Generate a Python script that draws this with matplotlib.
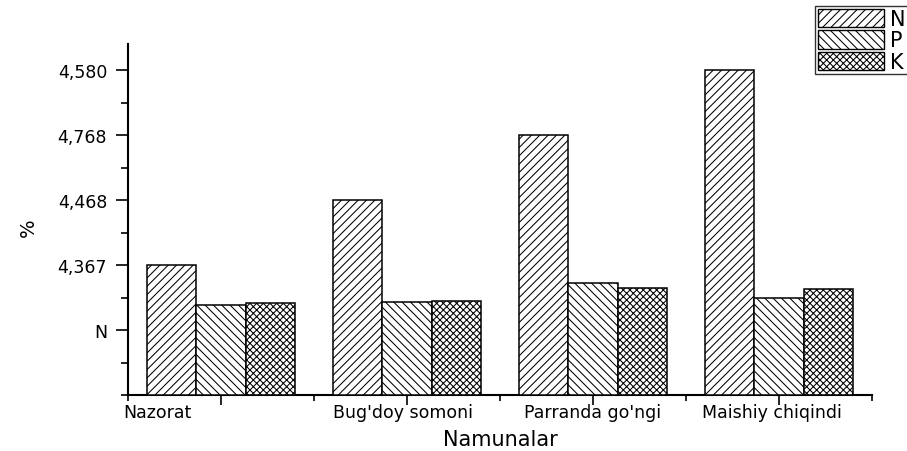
import matplotlib
matplotlib.use("Agg")
import matplotlib.pyplot as plt
from matplotlib.patches import Patch
from matplotlib.ticker import FixedLocator, MultipleLocator

# ---- data ----------------------------------------------------------------
categories = ["Nazorat", "Bug'doy somoni", "Parranda go'ngi", "Maishiy chiqindi"]
series = ["N", "P", "K"]
n_vals = [2.00, 3.00, 4.00, 5.00]
p_vals = [1.385, 1.43, 1.72, 1.50]
k_vals = [1.415, 1.45, 1.64, 1.63]
ytick_pos = [1, 2, 3, 4, 5]
ytick_labels = ["N", "4,367", "4,468", "4,768", "4,580"]

HATCH = {"N": "////", "P": "\\\\\\\\", "K": "xxxxx"}

plt.rcParams.update({
    "font.family": "DejaVu Sans",
    "hatch.linewidth": 0.75,
    "hatch.color": "black",
})

fig = plt.figure(figsize=(9.07, 4.52), dpi=100)
ax = fig.add_axes([128 / 907, 56 / 452, 744 / 907, 351 / 452])

w = 0.267
x = list(range(1, len(categories) + 1))
for off, vals, name in [(-w, n_vals, "N"), (0, p_vals, "P"), (w, k_vals, "K")]:
    ax.bar([xi + off for xi in x], vals, width=w, color="white",
           edgecolor="black", linewidth=1.1, hatch=HATCH[name], zorder=3)

ax.set_xlim(0.5, 4.5)
ax.set_ylim(0, 5.4)
for s in ("top", "right"):
    ax.spines[s].set_visible(False)
for s in ("left", "bottom"):
    ax.spines[s].set_linewidth(1.5)

ax.yaxis.set_major_locator(FixedLocator(ytick_pos))
ax.set_yticklabels(ytick_labels, fontsize=12.5)
ax.yaxis.set_minor_locator(MultipleLocator(0.5))
ax.tick_params(axis="y", which="major", length=9, width=1.2, pad=6)
ax.tick_params(axis="y", which="minor", length=5, width=1.2)

ax.xaxis.set_major_locator(FixedLocator(x))
ax.xaxis.set_minor_locator(FixedLocator([0.5, 1.5, 2.5, 3.5, 4.5]))
ax.set_xticklabels([""] * len(x))
ax.tick_params(axis="x", which="major", length=7, width=1.2)
ax.tick_params(axis="x", which="minor", length=4, width=1.2)

# category labels (first one sits left of its group, as in the original)
label_x = [0.656, 1.978, 3.0, 3.96]
for lx, cat in zip(label_x, categories):
    ax.annotate(cat, (lx, 0), xycoords=("data", "axes fraction"),
                xytext=(0, -17), textcoords="offset pixels",
                ha="center", va="center", fontsize=12.5)

fig.text(500 / 907, 1 - 440 / 452, "Namunalar", ha="center", va="center",
         fontsize=15)
fig.text(28 / 907, 1 - 228 / 452, "%", ha="center", va="center",
         rotation=90, fontsize=14)

handles = [Patch(facecolor="white", edgecolor="black", linewidth=1.0,
                 hatch=HATCH[s], label=s) for s in series]
leg = fig.legend(handles=handles, loc="upper left",
                 bbox_to_anchor=(815 / 907, 1 - 7 / 452), frameon=True,
                 fancybox=False, fontsize=15, handlelength=3.2,
                 handleheight=1.0, labelspacing=0.05, borderpad=0.12,
                 handletextpad=0.3, borderaxespad=0)
leg.get_frame().set_edgecolor("black")
leg.get_frame().set_linewidth(1.0)

fig.savefig("out.png", dpi=100)
